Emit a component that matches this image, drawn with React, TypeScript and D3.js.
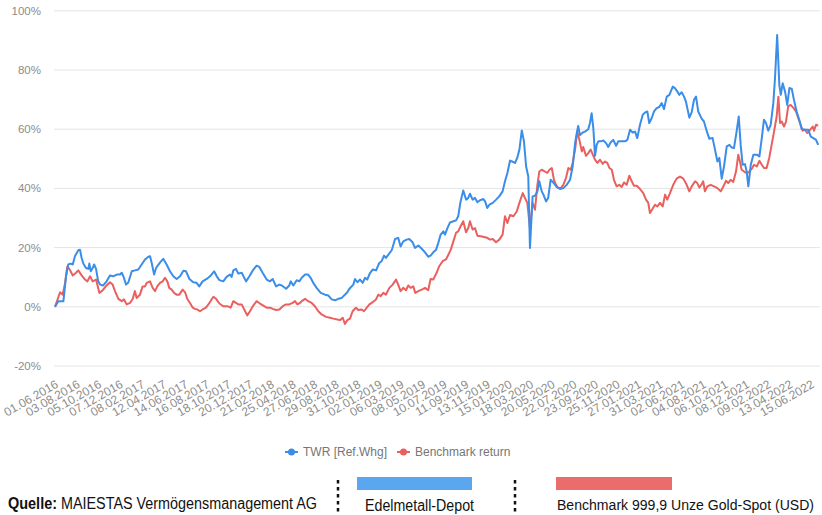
import React from 'react';
import * as d3 from 'd3';

// weeks since 01.06.2016 -> return in %
const xTickLabels = [
  '01.06.2016', '03.08.2016', '05.10.2016', '07.12.2016', '08.02.2017', '12.04.2017',
  '14.06.2017', '16.08.2017', '18.10.2017', '20.12.2017', '21.02.2018', '25.04.2018',
  '27.06.2018', '29.08.2018', '31.10.2018', '02.01.2019', '06.03.2019', '08.05.2019',
  '10.07.2019', '11.09.2019', '13.11.2019', '15.01.2020', '18.03.2020', '20.05.2020',
  '22.07.2020', '23.09.2020', '25.11.2020', '27.01.2021', '31.03.2021', '02.06.2021',
  '04.08.2021', '06.10.2021', '08.12.2021', '09.02.2022', '13.04.2022', '15.06.2022',
];
const weeksPerTick = 9;
const lastWeek = 318;
const yTicks = [-20, 0, 20, 40, 60, 80, 100];

const twrSeries: [number, number][] = [
  [0,0],[1.4,1.9],[3.5,1.9],[4.6,10.3],[5.5,14.3],[6.5,14.6],[7.4,14.3],[8.3,17.1],[9.7,19.1],[10.4,19.3],
  [11.1,16.5],[11.8,14.6],[12.9,13.1],[13.9,12.8],[14.3,14.6],[14.9,12.0],[15.7,13.1],[16.3,14.3],[17.1,12.8],[18.0,8.6],
  [18.8,7.5],[20.1,7.2],[21.5,8.6],[22.9,10.6],[24.3,10.3],[25.7,10.9],[27.1,10.9],[27.8,11.5],[28.5,10.3],[29.6,7.5],
  [30.5,8.1],[32.0,12.0],[33.3,12.3],[34.7,12.6],[36.1,14.3],[37.5,16.0],[38.9,16.9],[39.6,17.1],[40.3,14.8],[41.3,10.9],
  [42.1,13.1],[43.8,15.0],[45.1,16.2],[46.5,14.3],[47.9,12.0],[49.3,10.3],[50.7,9.4],[52.1,10.3],[53.5,12.2],[54.6,12.0],
  [56.0,9.4],[57.6,8.3],[59.0,8.1],[60.1,6.9],[61.5,8.6],[63.2,9.4],[64.6,10.3],[66.3,12.0],[67.4,10.3],[68.5,9.0],
  [70.1,8.6],[71.5,10.1],[72.9,10.9],[73.6,10.1],[74.3,12.3],[75.4,12.8],[76.4,11.2],[77.8,11.5],[79.6,8.6],[81.0,10.3],
  [82.4,12.3],[84.0,13.9],[85.1,13.5],[86.5,11.5],[88.2,9.2],[89.6,8.6],[90.7,9.4],[92.1,6.9],[93.5,7.5],[94.5,7.2],
  [96.3,6.1],[97.6,7.2],[98.2,8.6],[99.3,7.2],[100.7,9.0],[101.8,8.6],[102.8,9.8],[104.2,10.9],[105.5,10.9],[106.5,9.8],
  [107.6,8.1],[109.0,6.4],[110.7,4.7],[112.5,4.1],[113.9,3.8],[115.3,2.5],[116.7,2.2],[118.0,2.7],[119.5,3.0],[120.8,4.1],
  [121.8,4.9],[122.6,6.0],[124.3,7.5],[125.0,9.4],[126.0,8.3],[127.1,9.2],[128.2,8.1],[129.2,9.8],[130.1,9.2],[131.3,11.5],
  [132.4,12.6],[133.8,12.3],[135.1,14.8],[136.1,15.4],[137.1,17.3],[137.9,16.5],[138.9,17.6],[140.3,19.1],[141.7,22.9],[143.0,23.3],
  [144.0,20.4],[145.1,22.1],[146.5,22.7],[147.6,22.9],[149.0,21.8],[150.0,19.9],[151.4,20.7],[152.8,19.6],[154.2,18.4],[155.5,16.9],
  [156.5,17.3],[157.6,18.4],[158.8,19.3],[159.7,21.6],[160.7,24.4],[161.8,25.5],[162.5,24.4],[163.5,26.6],[164.6,28.5],[166.0,28.9],
  [167.1,29.2],[168.0,30.6],[169.0,35.6],[170.1,39.3],[171.3,36.2],[172.2,36.8],[172.9,38.2],[174.0,36.2],[175.0,36.8],[176.0,35.3],
  [177.1,36.0],[178.5,36.4],[179.2,35.6],[180.1,33.4],[181.0,34.5],[182.4,35.1],[183.8,36.2],[185.1,37.3],[186.5,39.0],[187.5,42.4],
  [188.5,45.2],[189.6,49.4],[190.7,49.0],[191.7,48.6],[192.6,50.3],[193.5,53.1],[194.5,59.6],[195.4,55.9],[196.3,47.4],[197.2,44.0],
  [197.9,19.9],[199.0,37.3],[200.0,37.5],[201.0,39.0],[201.8,42.4],[202.8,39.0],[203.5,37.9],[204.6,35.6],[205.5,36.8],[206.5,42.9],
  [207.6,42.0],[209.0,40.5],[210.4,39.8],[211.8,40.1],[213.2,41.2],[214.6,42.9],[215.7,47.4],[216.7,55.3],[217.4,58.7],[218.0,61.1],
  [218.75,58.0],[219.9,58.9],[220.8,59.2],[222.2,60.0],[222.9,62.1],[223.6,65.4],[224.3,60.4],[225.0,51.0],[225.7,54.7],[226.4,55.9],
  [227.4,55.9],[228.5,56.2],[229.6,55.3],[230.5,54.0],[231.5,55.5],[232.6,56.4],[233.8,54.4],[234.7,55.9],[236.1,55.9],[237.5,55.9],
  [238.5,56.4],[239.6,59.8],[240.7,58.9],[241.7,59.2],[242.6,57.0],[243.75,61.5],[244.9,64.9],[245.8,65.6],[246.8,66.0],[247.6,62.1],
  [248.6,63.7],[249.6,66.0],[250.7,67.1],[251.8,67.5],[252.8,68.8],[253.75,66.8],[254.9,71.0],[256.0,71.6],[257.4,74.4],[258.3,73.9],
  [259.3,72.7],[260.1,71.6],[261.1,72.5],[262.1,71.0],[262.9,69.3],[264.3,63.9],[265.3,65.8],[266.25,69.9],[267.1,71.0],[268.0,66.0],
  [269.5,63.5],[270.4,62.6],[271.5,59.5],[272.6,56.8],[274.0,57.0],[275.0,53.1],[276.0,49.1],[276.8,50.3],[277.8,43.3],[278.75,47.4],
  [279.9,54.2],[281.0,54.7],[282.0,53.8],[282.9,53.6],[284.0,59.2],[284.9,64.3],[285.7,54.7],[286.5,48.0],[287.5,48.2],[288.2,45.7],
  [288.9,40.7],[289.9,48.0],[291.0,51.4],[292.4,51.4],[293.5,50.8],[294.5,57.0],[295.4,63.2],[296.25,62.1],[297.2,59.5],[298.2,61.5],
  [299.3,68.8],[300.0,77.2],[300.9,91.8],[301.8,75.0],[302.4,71.6],[303.2,75.5],[304.2,72.7],[305.1,68.2],[306.0,73.9],[307.0,73.6],
  [307.9,69.9],[309.0,66.0],[310.1,63.2],[311.1,60.1],[312.5,59.8],[313.9,59.8],[314.9,57.5],[316.0,57.0],[317.1,56.4],[318.0,54.7],
];

const benchmarkSeries: [number, number][] = [
  [0,0],[2.1,4.9],[3.2,4.1],[4.2,8.1],[5.1,13.5],[6.0,12.8],[7.4,10.6],[8.75,11.5],[9.7,12.3],[11.1,10.6],
  [12.5,9.2],[13.5,8.6],[14.6,10.3],[15.7,8.6],[17.1,9.2],[18.5,4.7],[19.9,5.6],[21.5,7.2],[22.9,8.3],[24.0,7.5],
  [25.0,5.3],[26.4,2.7],[27.8,1.9],[28.75,2.5],[29.9,0.8],[31.25,1.3],[32.4,2.7],[33.3,5.3],[34.0,3.0],[35.4,4.1],
  [36.5,6.9],[37.5,6.9],[38.2,8.1],[39.6,8.6],[40.7,6.4],[41.7,5.3],[42.6,6.9],[43.75,8.1],[44.9,8.6],[45.8,9.8],
  [46.8,8.6],[47.6,6.4],[48.6,5.8],[49.6,4.7],[50.7,4.1],[51.8,4.1],[53.2,5.8],[54.2,4.9],[55.1,2.7],[56.25,1.3],
  [57.4,-0.3],[58.3,-0.7],[59.3,-0.9],[60.4,-1.5],[61.5,-0.9],[62.9,-0.3],[63.9,0.8],[66.0,3.4],[67.1,2.7],[68.5,1.1],
  [70.1,0.2],[71.8,0.2],[73.2,-0.3],[74.3,1.9],[75.4,1.3],[76.4,0.8],[77.8,0.8],[79.2,-1.5],[80.1,-2.9],[81.25,-1.5],
  [82.6,0.4],[84.0,1.9],[85.4,1.1],[86.8,0.4],[88.2,-0.3],[89.6,-0.3],[90.7,-0.7],[92.1,-1.1],[93.5,-0.9],[94.9,0.2],
  [96.25,0.8],[97.6,0.8],[99.0,1.3],[100.0,1.9],[101.0,0.8],[102.1,1.3],[102.8,1.9],[104.2,2.7],[105.5,1.9],[106.95,1.3],
  [108.3,0.2],[109.7,-1.5],[111.1,-2.6],[112.9,-3.4],[114.6,-3.7],[116.0,-4.0],[117.6,-4.3],[118.75,-4.5],[119.9,-3.7],[120.8,-5.8],
  [121.8,-4.5],[122.9,-4.0],[124.0,-1.5],[125.4,-0.3],[126.4,-1.1],[127.8,-0.9],[128.75,-1.5],[129.9,-0.3],[131.0,0.8],[132.4,1.6],
  [133.75,2.5],[134.7,4.1],[135.7,3.6],[136.8,4.7],[137.9,4.1],[139.3,6.4],[140.7,7.5],[142.1,9.2],[143.0,7.5],[144.0,5.3],
  [145.1,6.4],[146.25,5.6],[147.2,7.2],[148.2,6.4],[149.3,6.9],[150.1,4.7],[151.4,5.3],[152.8,5.8],[154.2,6.4],[155.5,5.6],
  [156.5,9.4],[157.6,9.2],[159.0,11.5],[160.1,13.7],[161.5,15.4],[162.9,16.0],[163.9,17.6],[164.9,19.3],[166.0,22.1],[167.1,25.0],
  [168.0,25.5],[169.0,27.2],[170.1,28.9],[171.25,25.2],[172.2,26.6],[172.9,28.9],[174.0,26.1],[175.0,26.6],[176.0,24.0],[177.4,23.8],
  [178.75,23.6],[180.1,23.3],[181.25,22.7],[182.4,22.9],[183.75,21.8],[185.1,22.7],[186.5,24.4],[187.5,30.6],[188.5,28.3],[189.6,31.0],
  [191.0,30.6],[192.4,32.2],[193.5,35.1],[194.9,38.4],[195.8,36.8],[196.8,35.1],[197.9,26.5],[199.0,35.1],[200.0,32.8],[201.0,41.2],
  [201.8,45.7],[202.8,46.3],[204.2,45.7],[205.1,45.2],[206.0,46.3],[207.0,46.9],[207.9,42.9],[208.75,41.2],[209.7,40.1],[210.7,40.1],
  [211.8,41.2],[212.9,43.5],[213.9,46.9],[214.9,46.3],[215.7,48.6],[216.7,53.1],[217.6,59.2],[218.5,56.4],[219.5,52.5],[220.1,54.0],
  [221.25,51.0],[222.2,51.9],[223.2,53.1],[224.3,51.0],[225.0,49.7],[226.0,48.6],[227.1,49.7],[228.2,48.3],[229.2,49.1],[230.1,48.6],
  [231.0,46.9],[232.0,46.3],[232.9,42.9],[234.0,40.7],[235.1,41.2],[236.1,40.5],[237.1,42.0],[238.2,41.2],[239.3,44.3],[240.3,42.4],
  [241.25,40.9],[242.4,40.9],[243.75,39.8],[245.1,38.4],[246.25,36.2],[247.2,35.1],[247.9,31.7],[249.0,33.1],[250.0,34.5],[251.0,33.9],
  [252.1,35.1],[253.2,33.9],[254.2,37.9],[255.1,36.2],[256.25,38.4],[257.6,41.2],[259.0,43.3],[260.4,44.0],[261.8,43.3],[263.2,41.2],
  [264.3,39.0],[265.3,40.7],[266.7,42.4],[267.6,41.8],[268.5,40.3],[269.5,41.5],[270.1,42.4],[270.8,39.0],[271.8,40.7],[273.2,41.2],
  [274.6,40.7],[276.0,40.1],[277.4,39.0],[278.5,40.7],[279.6,42.6],[280.5,41.8],[281.5,42.9],[282.6,42.2],[283.75,45.7],[284.7,51.4],
  [285.4,49.1],[286.1,46.3],[287.1,45.7],[288.2,45.2],[289.3,45.7],[290.3,46.6],[291.25,48.0],[292.4,47.4],[293.5,49.3],[294.5,48.0],
  [295.4,46.9],[296.5,46.9],[297.6,50.3],[298.6,54.7],[299.6,59.2],[300.7,64.3],[301.4,71.0],[302.1,62.1],[302.8,62.6],[303.75,60.9],
  [304.6,62.6],[305.5,67.7],[306.5,68.2],[307.6,67.3],[308.75,66.0],[309.7,63.7],[310.7,61.5],[311.5,59.5],[312.5,59.8],[313.5,58.7],
  [314.6,59.8],[315.7,60.9],[316.25,59.5],[317.1,61.5],[318.0,61.2],
];

const seriesNames = ['TWR [Ref.Whg]', 'Benchmark return'];
const seriesColors = ['#3a8de8', '#e9605f'];
const sourceLabel = 'Quelle:';
const sourceText = 'MAIESTAS Vermögensmanagement AG';
const footerLabels = ['Edelmetall-Depot', 'Benchmark 999,9 Unze Gold-Spot (USD)'];
const footerColors = ['#5aa6ef', '#eb6c6c'];

export default function App() {
  const W = 822;
  const H = 515;
  const x = d3.scaleLinear().domain([0, lastWeek]).range([55, 818.2]);
  const y = d3.scaleLinear().domain([-20, 100]).range([366, 10.8]);
  const line = d3
    .line<[number, number]>()
    .x((d) => x(d[0]))
    .y((d) => y(d[1]));
  const font = "'Liberation Sans', Arial, sans-serif";
  const legendFs = 12;
  const legendStarts = [285, 397];

  return (
    <svg
      width={W}
      height={H}
      style={{ position: 'absolute', left: 0, top: 0, background: '#fff' }}
      fontFamily={font}
    >
      <rect x={0} y={0} width={W} height={H} fill="#fff" />
      {yTicks.map((t) => (
        <g key={t}>
          <line x1={54} x2={820} y1={y(t)} y2={y(t)} stroke="#e4e4e4" strokeWidth={1} />
          <text x={41} y={y(t)} dy="0.35em" textAnchor="end" fontSize={11.5} fill="#8c8c8c">
            {t}%
          </text>
        </g>
      ))}
      {xTickLabels.map((lab, i) => {
        const tx = x(i * weeksPerTick);
        return (
          <text
            key={lab}
            transform={`translate(${tx + 2},${383}) rotate(-30)`}
            textAnchor="end"
            dy="0.35em"
            fontSize={12}
            fill="#8c8c8c"
          >
            {lab}
          </text>
        );
      })}
      <path d={line(benchmarkSeries) || ''} fill="none" stroke={seriesColors[1]} strokeWidth={2} strokeLinejoin="round" />
      <path d={line(twrSeries) || ''} fill="none" stroke={seriesColors[0]} strokeWidth={2} strokeLinejoin="round" />

      {/* legend */}
      {[0, 1].map((i) => {
        const lx = legendStarts[i];
        return (
          <g key={i}>
            <line x1={lx} x2={lx + 13} y1={452} y2={452} stroke={seriesColors[i]} strokeWidth={2} />
            <circle cx={lx + 6.5} cy={452} r={3.5} fill={seriesColors[i]} />
            <text x={lx + 18} y={452} dy="0.35em" fontSize={legendFs} fill="#767676">
              {seriesNames[i]}
            </text>
          </g>
        );
      })}

      {/* footer */}
      <text x={8} y={503} dy="0.35em" fontSize={16} fontWeight="bold" fill="#111" textLength={49} lengthAdjust="spacingAndGlyphs">
        {sourceLabel}
      </text>
      <text x={61} y={503} dy="0.35em" fontSize={16} fill="#111" textLength={256} lengthAdjust="spacingAndGlyphs">
        {sourceText}
      </text>
      <line x1={338} x2={338} y1={480} y2={512} stroke="#111" strokeWidth={2.5} strokeDasharray="3.5,3.5" />
      <line x1={515} x2={515} y1={480} y2={512} stroke="#111" strokeWidth={2.5} strokeDasharray="3.5,3.5" />
      <rect x={357} y={477} width={115} height={13} fill={footerColors[0]} />
      <rect x={556} y={477} width={116} height={13} fill={footerColors[1]} />
      <text x={365} y={505} dy="0.35em" fontSize={16} fill="#111" textLength={109} lengthAdjust="spacingAndGlyphs">
        {footerLabels[0]}
      </text>
      <text x={557} y={505} dy="0.35em" fontSize={14} fill="#111" textLength={257} lengthAdjust="spacingAndGlyphs">
        {footerLabels[1]}
      </text>
    </svg>
  );
}
